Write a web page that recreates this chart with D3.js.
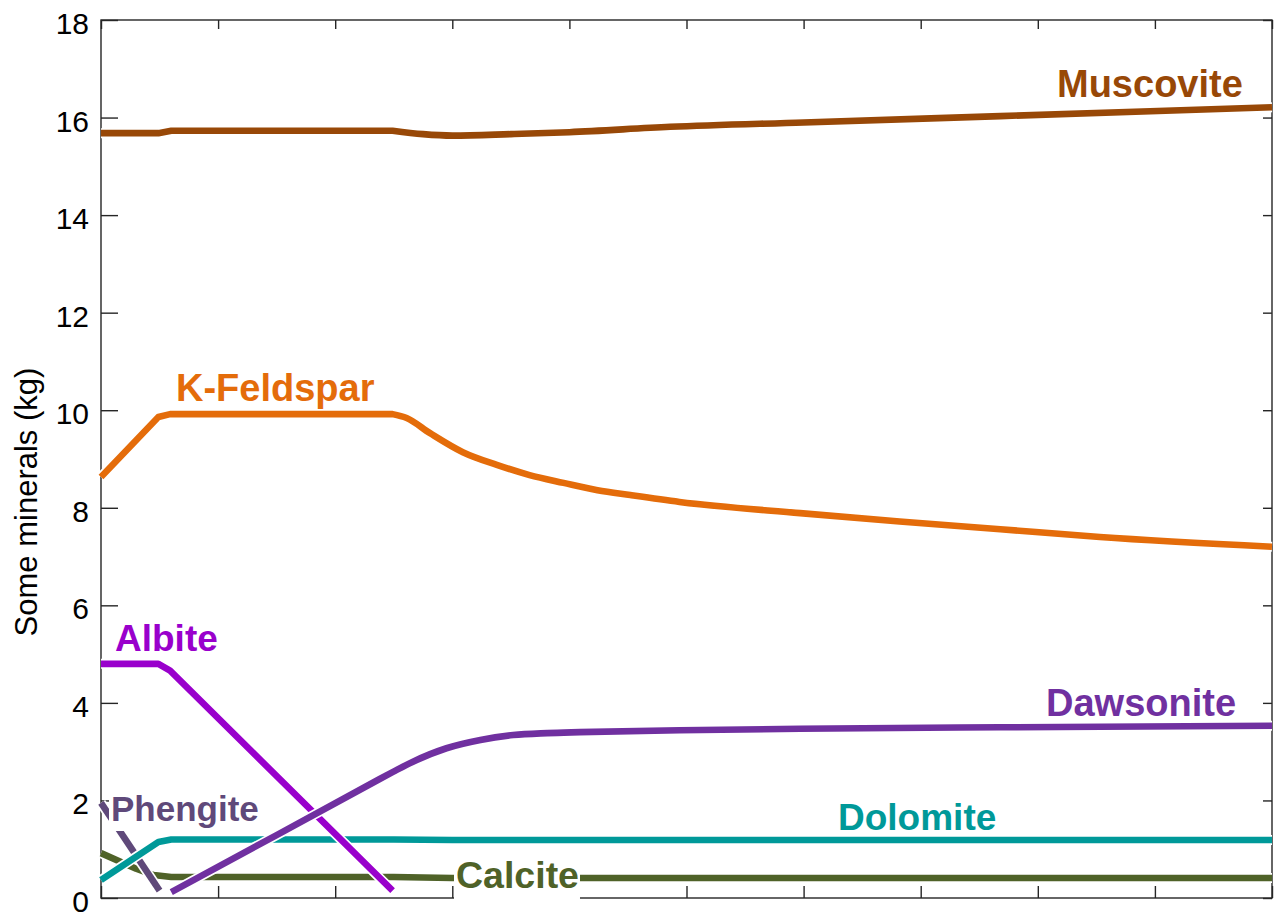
<!DOCTYPE html>
<html>
<head>
<meta charset="utf-8">
<script src="https://cdn.jsdelivr.net/npm/d3@7"></script>
<style>
  body { margin: 0; background: #fff; }
  svg { display: block; font-family: "Liberation Sans", Arial, sans-serif; }
</style>
</head>
<body>
<svg id="chart" width="1276" height="914"></svg>
<script>
// ---- data: [time, mass in kg] ----
const muscovite = [[0,15.68],[0.49,15.68],[0.6,15.73],[2.49,15.73],[2.75,15.66],[3.0,15.63],[3.5,15.66],[4.0,15.70],[4.86,15.81],[6.0,15.90],[7.68,16.03],[10,16.21]];
const kFeldspar = [[0,8.63],[0.49,9.86],[0.59,9.92],[2.49,9.92],[2.61,9.84],[2.81,9.53],[3.09,9.14],[3.38,8.88],[3.66,8.67],[3.95,8.51],[4.24,8.36],[4.52,8.26],[4.94,8.12],[5.97,7.89],[6.82,7.72],[7.68,7.56],[8.53,7.40],[10,7.20]];
const albite    = [[0,4.8],[0.49,4.8],[0.59,4.66],[2.49,0.15]];
const dawsonite = [[0.6,0.12],[1.5,1.29],[2.38,2.44],[2.49,2.58],[2.66,2.79],[2.95,3.07],[3.24,3.24],[3.52,3.34],[3.81,3.38],[4.09,3.40],[4.94,3.44],[5.97,3.47],[7.68,3.50],[10,3.53]];
const dolomite  = [[0,0.37],[0.49,1.15],[0.6,1.2],[2.5,1.2],[3.0,1.19],[10,1.19]];
const calcite   = [[0,0.92],[0.3,0.6],[0.45,0.47],[0.6,0.43],[2.5,0.43],[3.0,0.41],[10,0.41]];
const phengite  = [[0,1.95],[0.5,0.15]];

const yTicks = [0, 2, 4, 6, 8, 10, 12, 14, 16, 18];
const xTicks = [0, 1, 2, 3, 4, 5, 6, 7, 8, 9, 10];
const yTitle = "Some minerals (kg)";

// series in drawing order (later ones sit on top)
const series = [
  { name: "Muscovite",  values: muscovite },
  { name: "K-Feldspar", values: kFeldspar },
  { name: "Calcite",    values: calcite },
  { name: "Phengite",   values: phengite },
  { name: "Dolomite",   values: dolomite },
  { name: "Albite",     values: albite },
  { name: "Dawsonite",  values: dawsonite }
];

// ---- styling and label placement ----
const colors = {
  "Muscovite": "#984807", "K-Feldspar": "#E46C0A", "Albite": "#9900CC",
  "Dawsonite": "#7030A0", "Dolomite": "#009999", "Calcite": "#4F6228",
  "Phengite": "#5F497A"
};
// time after which a series is drawn as a smooth curve (straight segments before)
const smoothFrom = { "Muscovite": 2.49, "K-Feldspar": 2.49, "Dawsonite": 2.38 };

const labelLayout = {
  "Muscovite":  { x: 1057, y: 97,  size: 38 },
  "K-Feldspar": { x: 176,  y: 401, size: 38 },
  "Albite":     { x: 115,  y: 651, size: 37 },
  "Phengite":   { x: 111,  y: 821, size: 35, box: true },
  "Dolomite":   { x: 838,  y: 830, size: 37 },
  "Calcite":    { x: 456,  y: 888, size: 37.5, box: true },
  "Dawsonite":  { x: 1046, y: 716, size: 38 }
};

const plot = { left: 101, right: 1272, top: 20, bottom: 898 };

const x = d3.scaleLinear().domain([0, 10]).range([plot.left, plot.right]);
const y = d3.scaleLinear().domain([0, 18]).range([plot.bottom, plot.top]);

const svg = d3.select("#chart");
const axisColor = "#262626";

// frame
svg.append("rect")
  .attr("x", plot.left).attr("y", plot.top)
  .attr("width", plot.right - plot.left).attr("height", plot.bottom - plot.top)
  .attr("fill", "none").attr("stroke", axisColor).attr("stroke-width", 1.4);

function styleAxis(g) {
  g.select(".domain").remove();
  g.selectAll(".tick line").attr("stroke", axisColor).attr("stroke-width", 1.4);
}

// left axis with labels, ticks pointing inward
svg.append("g")
  .attr("transform", `translate(${plot.left},0)`)
  .call(d3.axisLeft(y).tickValues(yTicks).tickSize(-17).tickPadding(12).tickFormat(d3.format("d")))
  .call(styleAxis)
  .call(g => g.selectAll(".tick text")
    .attr("fill", "#000").attr("font-size", 30).attr("dy", "0.45em")
    .attr("font-family", "'Liberation Sans', Arial, sans-serif"));

// right axis
svg.append("g")
  .attr("transform", `translate(${plot.right},0)`)
  .call(d3.axisRight(y).tickValues(yTicks).tickSize(-9).tickFormat(""))
  .call(styleAxis);

// bottom axis
svg.append("g")
  .attr("transform", `translate(0,${plot.bottom})`)
  .call(d3.axisBottom(x).tickValues(xTicks).tickSize(-12).tickFormat(""))
  .call(styleAxis);

// top axis
svg.append("g")
  .attr("transform", `translate(0,${plot.top})`)
  .call(d3.axisTop(x).tickValues(xTicks).tickSize(-9).tickFormat(""))
  .call(styleAxis);

// y axis title
svg.append("text")
  .attr("transform", `translate(37,502) rotate(-90)`)
  .attr("text-anchor", "middle")
  .attr("font-size", 31)
  .attr("fill", "#000")
  .text(yTitle);

// line generators: straight pieces and a smooth tail
const straight = d3.line().x(d => x(d[0])).y(d => y(d[1]));
const smooth = d3.line().x(d => x(d[0])).y(d => y(d[1])).curve(d3.curveMonotoneX);

function pathFor(s) {
  const t0 = smoothFrom[s.name];
  if (t0 === undefined) return straight(s.values);
  const head = s.values.filter(d => d[0] <= t0);
  const tail = s.values.filter(d => d[0] >= t0);
  return straight(head) + smooth(tail).replace(/^M/, "L");
}

const lineW = 6.6;
series.forEach(s => {
  const d = pathFor(s);
  const g = svg.append("g").attr("class", "series");
  g.append("path")
    .attr("d", d)
    .attr("fill", "none")
    .attr("stroke", "#fff")
    .attr("stroke-width", lineW + 3.4)
    .attr("stroke-linejoin", "round");
  g.append("path")
    .attr("d", d)
    .attr("fill", "none")
    .attr("stroke", colors[s.name])
    .attr("stroke-width", lineW)
    .attr("stroke-linejoin", "round");
});

// series labels
series.forEach(s => {
  const L = labelLayout[s.name];
  const g = svg.append("g");
  const t = g.append("text")
    .attr("x", L.x).attr("y", L.y)
    .attr("font-size", L.size)
    .attr("font-weight", "bold")
    .attr("fill", colors[s.name])
    .text(s.name);
  if (L.box) {
    const b = t.node().getBBox();
    g.insert("rect", "text")
      .attr("x", b.x - 2).attr("y", b.y)
      .attr("width", b.width + 3).attr("height", b.height + 3)
      .attr("fill", "#fff");
  }
});
</script>
</body>
</html>
